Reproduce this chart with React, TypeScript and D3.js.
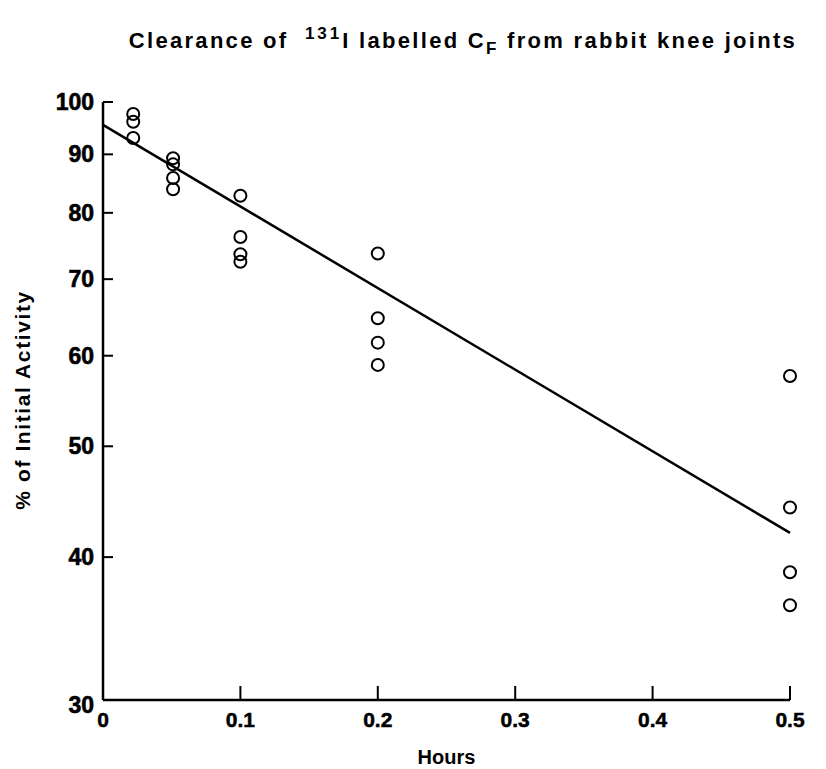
import * as d3 from 'd3';
import React from 'react';

// hours after injection, % of initial activity
const hours = [
  0.022, 0.022, 0.022,
  0.051, 0.051, 0.051, 0.051,
  0.1, 0.1, 0.1, 0.1,
  0.2, 0.2, 0.2, 0.2,
  0.5, 0.5, 0.5, 0.5,
];
const activity = [
  97.6, 96.1, 93.0,
  89.3, 88.2, 85.8, 83.9,
  82.8, 76.2, 73.6, 72.5,
  73.7, 64.7, 61.6, 58.9,
  57.6, 44.2, 38.8, 36.3,
];

// fitted exponential clearance line
const fitHours = [0, 0.5];
const fitActivity = [95.5, 42.0];

const xTicks = [0, 0.1, 0.2, 0.3, 0.4, 0.5];
const xTickLabels = ['0', '0.1', '0.2', '0.3', '0.4', '0.5'];
const yTicks = [30, 40, 50, 60, 70, 80, 90, 100];

const W = 826;
const H = 769;
const font = '"Liberation Sans", Arial, Helvetica, sans-serif';

export default function App() {
  const x = d3.scaleLinear().domain([0, 0.5]).range([103, 790]);
  const y = d3.scaleLog().domain([30, 100]).range([700, 102]);

  const line = d3
    .line<number>()
    .x((d) => x(fitHours[d]))
    .y((d) => y(fitActivity[d]));

  return (
    <div style={{ position: 'absolute', left: 0, top: 0 }}>
      <svg width={W} height={H} style={{ display: 'block', background: '#fff' }}>
        <text
          x={463}
          y={48}
          textAnchor='middle'
          fontFamily={font}
          fontWeight='bold'
          fontSize={22}
          letterSpacing={2.3}
          fill='#000'
        >
          Clearance of{' '}
          <tspan dx={8} dy={-9} fontSize={17} letterSpacing={3}>131</tspan>
          <tspan dy={9}>I labelled C</tspan>
          <tspan dy={6} fontSize={17}>F</tspan>
          <tspan dy={-6}> from rabbit knee joints</tspan>
        </text>

        {/* axes */}
        <line x1={x(0)} x2={x(0)} y1={y(100)} y2={y(30)} stroke='#000' strokeWidth={2.5} />
        <line x1={x(0)} x2={x(0.5)} y1={y(30)} y2={y(30)} stroke='#000' strokeWidth={2.5} />

        {yTicks.map((t) => (
          <g key={t}>
            <line x1={x(0)} x2={x(0) + 10} y1={y(t)} y2={y(t)} stroke='#000' strokeWidth={2} />
            <text
              x={x(0) - 9}
              y={y(t) + (t === 30 ? 13 : 8)}
              textAnchor='end'
              fontFamily={font}
              fontWeight='bold'
              fontSize={23}
              stroke='#000'
              strokeWidth={0.6}
            >
              {t}
            </text>
          </g>
        ))}

        {xTicks.map((t, i) => (
          <g key={t}>
            {t > 0 && (
              <line x1={x(t)} x2={x(t)} y1={y(30)} y2={y(30) - 14} stroke='#000' strokeWidth={2} />
            )}
            <text
              x={x(t)}
              y={y(30) + 27}
              textAnchor='middle'
              fontFamily={font}
              fontWeight='bold'
              fontSize={21}
              stroke='#000'
              strokeWidth={0.5}
            >
              {xTickLabels[i]}
            </text>
          </g>
        ))}

        <text
          x={x(0.25)}
          y={764}
          textAnchor='middle'
          fontFamily={font}
          fontWeight='bold'
          fontSize={20}
        >
          Hours
        </text>
        <text
          transform={`translate(30, 400) rotate(-90)`}
          textAnchor='middle'
          fontFamily={font}
          fontWeight='bold'
          fontSize={21}
          letterSpacing={1.6}
        >
          % of Initial Activity
        </text>

        <path d={line([0, 1]) ?? ''} fill='none' stroke='#000' strokeWidth={2.5} />

        {hours.map((h, i) => (
          <circle
            key={i}
            cx={x(h)}
            cy={y(activity[i])}
            r={6}
            fill='none'
            stroke='#000'
            strokeWidth={2}
          />
        ))}
      </svg>
    </div>
  );
}
